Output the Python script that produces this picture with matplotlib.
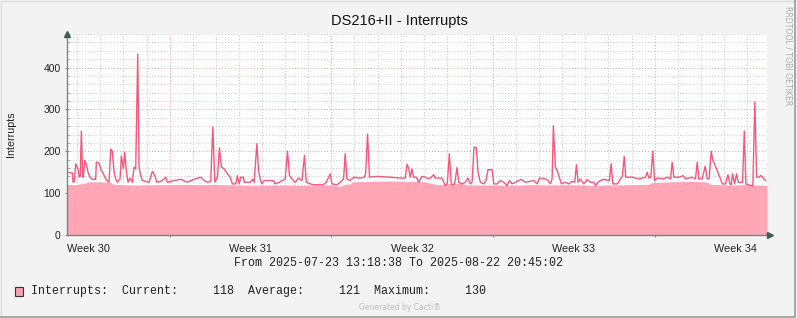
import numpy as np
import matplotlib.pyplot as plt
from matplotlib.ticker import MultipleLocator, FixedLocator, NullFormatter
from matplotlib.patches import Rectangle
from matplotlib.lines import Line2D

# hours since 2025-07-23 13:18:38
line_hours = [0, 5.5, 6.2, 7.6, 9, 11.4, 12.8, 13.8, 14.9, 16.3, 17, 18.4, 20.5, 21.8, 23.9, 26.3, 29.8,
              30.5, 33.3, 35, 37.8, 40.2, 43.7, 45.4, 47.1, 48.9, 50.6, 52.3, 55.1, 56.5, 58.6, 60, 61.4,
              63.4, 65.5, 67.9, 69.7, 71.4, 73.5, 74.9, 76.6, 78.3, 85.3, 88.7, 91.2, 93.3, 97.4, 100.9,
              102.6, 104.3, 111.3, 118.2, 125.1, 132.1, 139, 142.5, 145.9, 149.4, 151.5, 153.6, 156.3,
              158.4, 160.5, 163.3, 166.7, 169.5, 171.9, 175.4, 177.1, 178.9, 180.5, 183.4, 184.1, 190.3,
              193.1, 194.5, 197.3, 199, 200.7, 202.5, 204.9, 214.6, 216.3, 220.8, 226.7, 229.1, 231.2,
              233.7, 237.1, 240.6, 244.1, 246.8, 248.6, 252.7, 256.2, 266.6, 269.4, 271.8, 273.5, 275.3,
              280.5, 283.9, 287.4, 289.1, 290.9, 294.3, 297.8, 304.7, 308.9, 310.3, 312.3, 314.4, 322.1,
              336, 346.3, 351.5, 353.3, 355, 356.7, 358.5, 360.2, 363, 365.4, 368.9, 372.3, 375.8, 378.6,
              381, 382.7, 389.6, 393.1, 395.2, 397.3, 399.4, 402.8, 405.3, 407, 410.5, 414, 416.7, 419.1,
              420.9, 423, 425.4, 427.1, 429.5, 433, 435.4, 437.5, 441.7, 443.4, 446.9, 450.3, 453.8,
              457.3, 459.7, 462.5, 469.4, 472.2, 476.3, 485, 488.5, 490.9, 497.1, 499.9, 502.3, 504.1,
              505.4, 507.5, 509.3, 511, 513.8, 517.9, 521.4, 524.9, 527.6, 529.4, 531.1, 533.5, 537,
              540.5, 543.9, 547.4, 549.1, 552.6, 557.8, 563.7, 565.4, 567.2, 571.7, 575.1, 577.2, 579,
              580.6, 587.3, 594.2, 601.1, 602.9, 604.6, 606.7, 608.7, 610.5, 613.3, 620.2, 623.7, 627.1,
              628.9, 630.6, 636.8, 640.3, 642.7, 649.7, 653.1, 654.9, 656.6, 660, 663.2, 665.3, 667.3,
              669.4, 671.1, 672.9, 675.7, 678.4, 680.9, 684.3, 686.8, 688.8, 690.2, 691.6, 693.7, 695.8,
              697.5, 702, 703.8, 705.5, 710.3, 712.7, 714.8, 716.6, 719, 720.8, 722.9, 724.2, 726]
line_vals = [150, 148, 126, 128, 170, 158, 138, 140, 248, 140, 138, 178, 166, 150, 138, 133, 133,
             174, 172, 158, 146, 134, 126, 205, 200, 150, 134, 126, 134, 189, 158, 198, 158,
             126, 136, 126, 162, 158, 432, 162, 142, 130, 126, 152, 142, 126, 128, 134,
             138, 126, 130, 133, 126, 133, 138, 130, 126, 128, 258, 126, 138,
             208, 162, 158, 146, 138, 122, 122, 142, 122, 138, 138, 126, 126,
             133, 126, 218, 154, 134, 122, 130, 130, 122, 126, 134, 200, 142,
             134, 126, 136, 130, 190, 126, 122, 120, 120, 126, 138, 146, 122,
             120, 126, 134, 194, 134, 130, 138, 136, 138, 146, 241, 138, 140,
             138, 136, 136, 169, 160, 138, 158, 138, 138, 126, 140, 138, 134, 138,
             144, 136, 136, 118, 122, 194, 120, 122, 161, 126, 122, 126, 136, 122,
             126, 210, 208, 150, 126, 122, 130, 156, 156, 122, 122, 130, 126,
             118, 130, 122, 130, 133, 126, 130, 122, 136, 134, 130, 122, 134,
             261, 162, 154, 142, 122, 126, 122, 128, 126, 168, 126, 134, 122,
             132, 126, 126, 118, 128, 133, 130, 170, 122, 122, 134, 141, 188,
             138, 138, 134, 138, 150, 136, 138, 200, 130, 136, 134, 138, 134,
             174, 138, 138, 142, 134, 138, 134, 174, 134, 134, 164, 134, 134,
             200, 178, 170, 154, 138, 122, 122, 144, 122, 120, 146, 122, 146,
             126, 126, 248, 122, 118, 118, 318, 138, 138, 142, 138, 134, 130]

area_hours = [0, 8, 19, 22, 34, 45, 48, 60, 71, 86, 104, 123, 138, 154, 173, 190, 211, 232, 253, 277,
              284, 289, 294, 297, 315, 336, 357, 372, 383, 388, 398, 409, 416, 440, 461, 482, 502, 523,
              544, 565, 586, 604, 608, 627, 648, 664, 669, 690, 710, 727.4]
area_vals = [121, 120, 124, 127, 127, 126, 121, 120, 119, 120, 120, 121, 120, 121, 119, 118, 119, 119,
             118, 119, 116, 121, 122, 127, 128, 129, 128, 127, 121, 120, 123, 124, 119, 119, 118, 120,
             119, 120, 118, 119, 120, 121, 125, 127, 128, 127, 121, 119, 120, 118]

week_labels = ['Week 30', 'Week 31', 'Week 32', 'Week 33', 'Week 34']
week_mid_hours = [22.69, 190.69, 358.69, 526.69, 694.69]
legend_text = 'Interrupts:  Current:     118  Average:     121  Maximum:     130'

total_hours = 727.4
first_midnight = 10.69
first_monday = 106.69

fig = plt.figure(figsize=(7.97, 3.18), dpi=100, facecolor='#F3F3F3')
ax = fig.add_axes([67 / 797, 83 / 318, 700 / 797, 201 / 318])
ax.set_facecolor('white')

ax.fill_between(area_hours, 0, area_vals, color='#FFA6B6', lw=0, zorder=2)
ax.plot(line_hours, line_vals, color='#F5577A', lw=1.0, zorder=3)

ax.set_xlim(0, total_hours)
ax.set_ylim(0, 480)

# grid
ax.yaxis.set_major_locator(MultipleLocator(100))
ax.yaxis.set_minor_locator(MultipleLocator(20))
ax.xaxis.set_major_locator(FixedLocator(np.arange(first_monday, total_hours, 168)))
ax.xaxis.set_minor_locator(FixedLocator(np.arange(first_midnight, total_hours, 24)))
ax.xaxis.set_major_formatter(NullFormatter())
ax.grid(which='minor', color='#C8C8C8', ls=(0, (1, 2)), lw=0.7, zorder=1)
ax.grid(which='major', color='#E8A0A0', ls=(0, (1, 2)), lw=0.7, zorder=1)
ax.set_axisbelow(True)

for s in ['top', 'right']:
    ax.spines[s].set_visible(False)
for s in ['left', 'bottom']:
    ax.spines[s].set_color('#6E8A82')
    ax.spines[s].set_linewidth(1.0)

ax.tick_params(axis='both', which='major', length=3, width=0.8, color='#888888', direction='inout',
               labelsize=7.5, pad=3, labelcolor='#222222')
ax.tick_params(axis='both', which='minor', length=2, width=0.6, color='#AAAAAA', direction='in')
for lbl in ax.get_yticklabels():
    lbl.set_family('Liberation Sans')

# axis arrows
ax.plot([0], [1.0], marker='^', ms=4, color='#3D5F55', transform=ax.transAxes, clip_on=False, zorder=5)
ax.plot([1.005], [0], marker='>', ms=4, color='#3D5F55', transform=ax.transAxes, clip_on=False, zorder=5)
ax.plot([1.0, 1.005], [0, 0], color='#6E8A82', lw=1.0, transform=ax.transAxes, clip_on=False)

for lab, h in zip(week_labels, week_mid_hours):
    ax.text(h, -0.045, lab, transform=ax.get_xaxis_transform(), ha='center', va='top',
            fontsize=7.8, family='Liberation Sans', color='#222222')

fig.text(399 / 797, 1 - 21 / 318, 'DS216+II - Interrupts', ha='center', va='center',
         fontsize=10.5, family='Liberation Sans', color='#111111')
fig.text(11 / 797, 1 - 134 / 318, 'Interrupts', rotation=90, ha='center', va='center',
         fontsize=7.7, family='Liberation Sans', color='#222222')
fig.text(788 / 797, 1 - 56 / 318, 'RRDTOOL / TOBI OETIKER', rotation=270, ha='center', va='center',
         fontsize=5.6, family='DejaVu Sans', color='#AAAAAA')

fig.text(398 / 797, 1 - 263 / 318, 'From 2025-07-23 13:18:38 To 2025-08-22 20:45:02', ha='center',
         va='center', fontsize=8.4, family='Liberation Mono', color='#222222')
fig.text(30.5 / 797, 1 - 291 / 318, legend_text, ha='left', va='center',
         fontsize=8.4, family='Liberation Mono', color='#222222')
fig.patches.append(Rectangle((15 / 797, 1 - 296 / 318), 8 / 797, 9 / 318, transform=fig.transFigure,
                             facecolor='#F4A2AE', edgecolor='#333333', lw=0.8))
fig.text(400 / 797, 1 - 307 / 318, 'Generated by Cacti®', ha='center', va='center',
         fontsize=5.5, family='DejaVu Sans', color='#BBBBBB')

# border
fig.lines.append(Line2D([0.001, 0.001, 0.999], [0, 0.998, 0.998], transform=fig.transFigure,
                        color='#DDDDDD', lw=1))
fig.lines.append(Line2D([0, 0.998, 0.998], [0.002, 0.002, 1], transform=fig.transFigure,
                        color='#999999', lw=1.2))

plt.savefig('out.png', dpi=100, facecolor=fig.get_facecolor())
